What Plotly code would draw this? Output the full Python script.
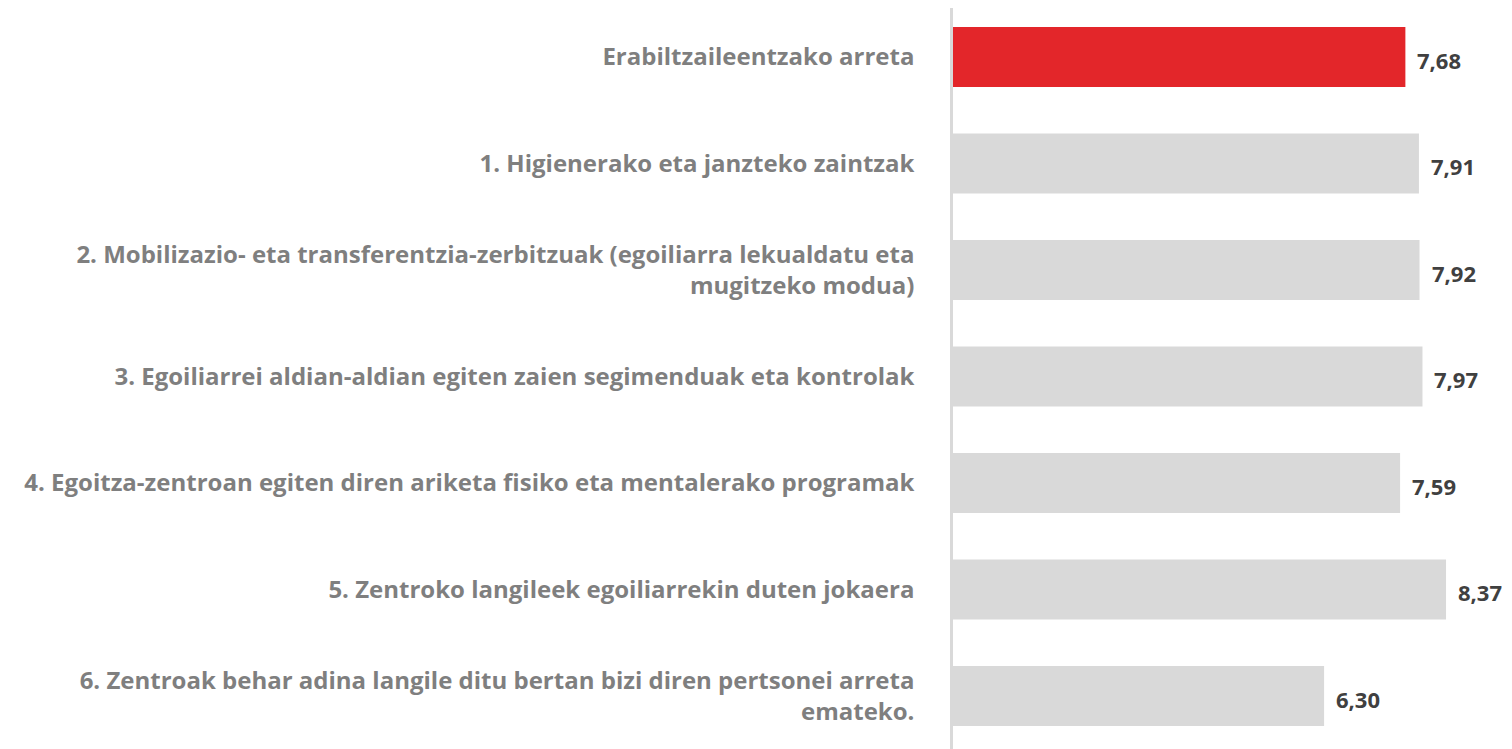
import plotly.graph_objects as go

categories = [
    "Erabiltzaileentzako arreta",
    "1. Higienerako eta janzteko zaintzak",
    "2. Mobilizazio- eta transferentzia-zerbitzuak (egoiliarra lekualdatu eta<br>mugitzeko modua)",
    "3. Egoiliarrei aldian-aldian egiten zaien segimenduak eta kontrolak",
    "4. Egoitza-zentroan egiten diren ariketa fisiko eta mentalerako programak",
    "5. Zentroko langileek egoiliarrekin duten jokaera",
    "6. Zentroak behar adina langile ditu bertan bizi diren pertsonei arreta<br>emateko.",
]
values = [7.68, 7.91, 7.92, 7.97, 7.59, 8.37, 6.30]
value_labels = ["7,68", "7,91", "7,92", "7,97", "7,59", "8,37", "6,30"]
bar_colors = ["#E3262A"] + ["#D9D9D9"] * 6

fig = go.Figure()
fig.add_trace(go.Bar(
    x=values,
    y=categories,
    orientation="h",
    marker=dict(color=bar_colors, line=dict(width=0)),
    width=0.565,
    hoverinfo="skip",
))

for v, lab, cat in zip(values, value_labels, categories):
    fig.add_annotation(
        x=v, y=cat, xref="x", yref="y",
        text="<b>" + lab + "</b>",
        showarrow=False, xanchor="left", yanchor="middle",
        xshift=10, yshift=-3,
        font=dict(family="Open Sans", size=22, color="#404040"),
    )

fig.update_layout(
    width=1504, height=741,
    margin=dict(l=945, r=0, t=0, b=0),
    paper_bgcolor="white", plot_bgcolor="white",
    showlegend=False,
    font=dict(family="Open Sans", size=24, color="#7F7F7F"),
    xaxis=dict(range=[0, 9.49], visible=False, showgrid=False, zeroline=False, fixedrange=True),
    yaxis=dict(
        type="category",
        categoryorder="array",
        categoryarray=categories,
        range=[6.498, -0.46],
        showline=True, linecolor="#D9D9D9", linewidth=2.5,
        ticks="", showgrid=False, zeroline=False,
        ticklabelstandoff=31,
        tickfont=dict(family="Open Sans", size=24, color="#7F7F7F", weight="bold"),
    ),
)

fig.write_html("out.html")
